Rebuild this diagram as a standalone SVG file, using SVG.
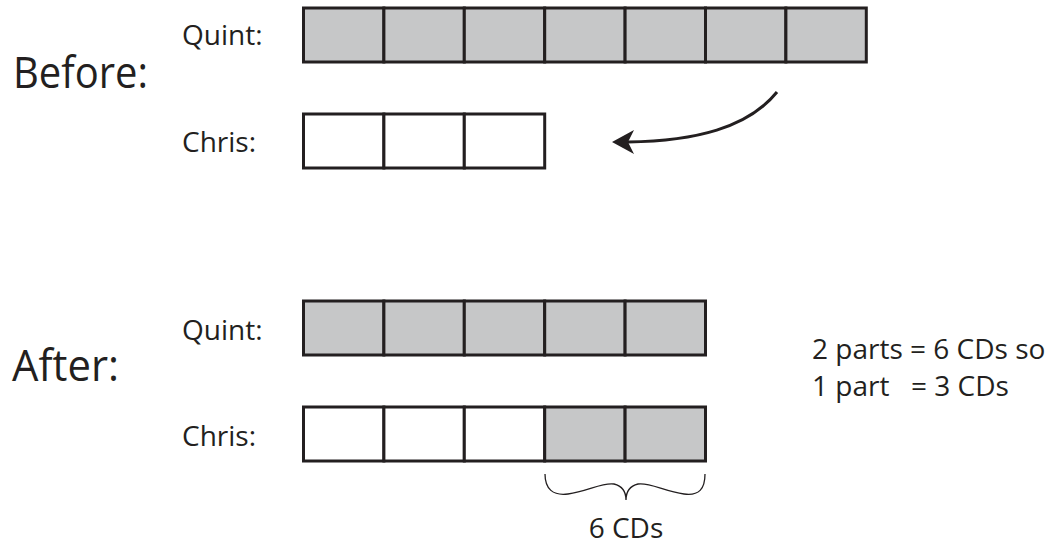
<svg xmlns="http://www.w3.org/2000/svg" width="1056" height="546" viewBox="0 0 1056 546">
<style>
  .t { font-family: "Open Sans", "Liberation Sans", sans-serif; fill: #231F20; }
  .big { font-size: 44px; }
  .lbl { font-size: 28px; }
  .g { fill: #C6C7C8; stroke: #231F20; stroke-width: 3; }
  .w { fill: #FFFFFF; stroke: #231F20; stroke-width: 3; }
  .ln { fill: none; stroke: #231F20; }
</style>
<rect width="1056" height="546" fill="#FFFFFF"/>

<g id="before-label"><text class="t big" x="13" y="88" textLength="135" lengthAdjust="spacingAndGlyphs">Before:</text></g>
<g id="after-label"><text class="t big" x="12" y="381" textLength="107" lengthAdjust="spacingAndGlyphs">After:</text></g>

<g id="quint-before">
  <text class="t lbl" x="182" y="45">Quint:</text>
  <rect class="g" x="303.5" y="8" width="80.4" height="54"/>
  <rect class="g" x="383.9" y="8" width="80.4" height="54"/>
  <rect class="g" x="464.3" y="8" width="80.4" height="54"/>
  <rect class="g" x="544.7" y="8" width="80.4" height="54"/>
  <rect class="g" x="625.1" y="8" width="80.4" height="54"/>
  <rect class="g" x="705.5" y="8" width="80.4" height="54"/>
  <rect class="g" x="785.9" y="8" width="80.4" height="54"/>
</g>

<g id="chris-before">
  <text class="t lbl" x="182" y="152">Chris:</text>
  <rect class="w" x="303.5" y="114" width="80.4" height="54"/>
  <rect class="w" x="383.9" y="114" width="80.4" height="54"/>
  <rect class="w" x="464.3" y="114" width="80.4" height="54"/>
</g>

<g id="quint-after">
  <text class="t lbl" x="182" y="340">Quint:</text>
  <rect class="g" x="303.5" y="301" width="80.4" height="54"/>
  <rect class="g" x="383.9" y="301" width="80.4" height="54"/>
  <rect class="g" x="464.3" y="301" width="80.4" height="54"/>
  <rect class="g" x="544.7" y="301" width="80.4" height="54"/>
  <rect class="g" x="625.1" y="301" width="80.4" height="54"/>
</g>

<g id="chris-after">
  <text class="t lbl" x="182" y="446">Chris:</text>
  <rect class="w" x="303.5" y="407" width="80.4" height="54"/>
  <rect class="w" x="383.9" y="407" width="80.4" height="54"/>
  <rect class="w" x="464.3" y="407" width="80.4" height="54"/>
  <rect class="g" x="544.7" y="407" width="80.4" height="54"/>
  <rect class="g" x="625.1" y="407" width="80.4" height="54"/>
</g>

<g id="note">
  <text class="t lbl" x="812" y="359">2 parts = 6 CDs so</text>
  <text class="t lbl" x="812" y="396">1 part</text>
  <text class="t lbl" x="911" y="396">= 3 CDs</text>
</g>

<g id="brace-label">
  <text class="t lbl" x="626" y="538" text-anchor="middle">6 CDs</text>
</g>

<g id="connectors">
  <path class="ln" stroke-width="3" d="M777,92 C748,128 695,141 628,142"/>
  <polygon fill="#231F20" points="612,142 634,130 628,142 634,154"/>
  <path class="ln" stroke-width="1.3" d="M545,474 C545,489 553,496 568,494 C588,491 603,482 614,484 C622,486 626,492 626,500 C626,492 630,486 638,484 C649,482 664,491 684,494 C699,496 705,489 705,474"/>
</g>
</svg>
